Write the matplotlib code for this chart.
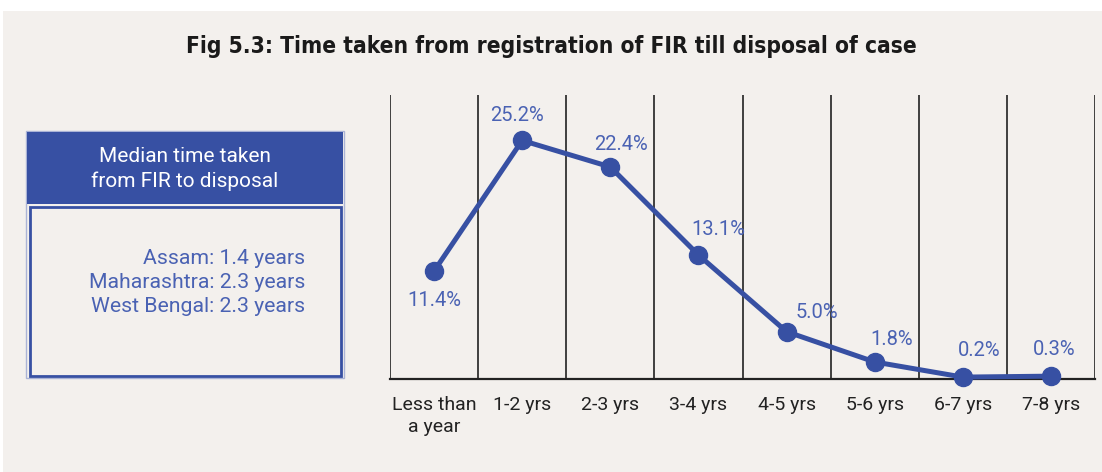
import matplotlib.pyplot as plt
from matplotlib.patches import Rectangle

# data
categories = ['Less than\na year', '1-2 yrs', '2-3 yrs', '3-4 yrs', '4-5 yrs',
              '5-6 yrs', '6-7 yrs', '7-8 yrs']
share = [11.4, 25.2, 22.4, 13.1, 5.0, 1.8, 0.2, 0.3]
label_offsets = [(0, -21), (-4, 18), (8, 16), (14, 18), (22, 14), (12, 16), (12, 19), (2, 19)]
median_lines = ['Assam: 1.4 years', 'Maharashtra: 2.3 years', 'West Bengal: 2.3 years']

BG = '#f3f0ed'
BLUE = '#3750a3'
TXT_BLUE = '#4a62b3'
W, H = 1102, 472

plt.rcParams['font.family'] = ['Roboto', 'DejaVu Sans']

fig = plt.figure(figsize=(W / 100, H / 100), dpi=100, facecolor='white')

# beige panel
fig.patches.append(Rectangle((3 / W, 0), 1 - 3 / W, 1 - 11 / H, transform=fig.transFigure,
                             facecolor=BG, edgecolor='none', zorder=-10))

fig.text(0.5, 1 - 46 / H, 'Fig 5.3: Time taken from registration of FIR till disposal of case',
         ha='center', va='center', fontsize=16.3, fontweight='bold', color='#1a1a1a',
         family=['DejaVu Sans'], fontstretch='condensed')

# line chart
ax = fig.add_axes([390 / W, 1 - 379 / H, (1095 - 390) / W, (379 - 95) / H])
ax.set_facecolor('none')
x = list(range(len(categories)))
ax.plot(x, share, color=BLUE, lw=3.6, marker='o', markersize=13, zorder=3, clip_on=False)
for xi, v, off in zip(x, share, label_offsets):
    ax.annotate(f'{v:.1f}%', (xi, v), xytext=off, textcoords='offset points',
                ha='center', va='center', fontsize=14.5, color=TXT_BLUE)

ax.set_xlim(-0.5, len(categories) - 0.5)
ax.set_ylim(0, 30)
for b in range(len(categories) + 1):
    ax.axvline(b - 0.5, color='#222222', lw=1.2, zorder=1)
for s in ['top', 'right', 'left']:
    ax.spines[s].set_visible(False)
ax.spines['bottom'].set_color('#222222')
ax.spines['bottom'].set_linewidth(1.6)
ax.set_yticks([])
ax.set_xticks(x)
ax.set_xticklabels(categories, fontsize=14, color='#222222', linespacing=1.3)
ax.tick_params(axis='x', length=0, pad=12)

# median box
def box(x0, y0, x1, y1, **kw):
    fig.patches.append(Rectangle((x0 / W, 1 - y1 / H), (x1 - x0) / W, (y1 - y0) / H,
                                 transform=fig.transFigure, **kw))

box(26, 131, 344, 378, facecolor='none', edgecolor='#aab3d6', lw=1)
box(27, 132, 343, 204, facecolor=BLUE, edgecolor='none')
box(30, 207, 341, 376, facecolor='none', edgecolor=BLUE, lw=2)
fig.text(185 / W, 1 - 169 / H, 'Median time taken\nfrom FIR to disposal', ha='center', va='center',
         fontsize=15, color='white', linespacing=1.3)
for i, t in enumerate(median_lines):
    fig.text(305 / W, 1 - (258 + 24.5 * i) / H, t, ha='right', va='center',
             fontsize=15.3, color=TXT_BLUE)

fig.savefig('out.png', dpi=100, facecolor=fig.get_facecolor())
